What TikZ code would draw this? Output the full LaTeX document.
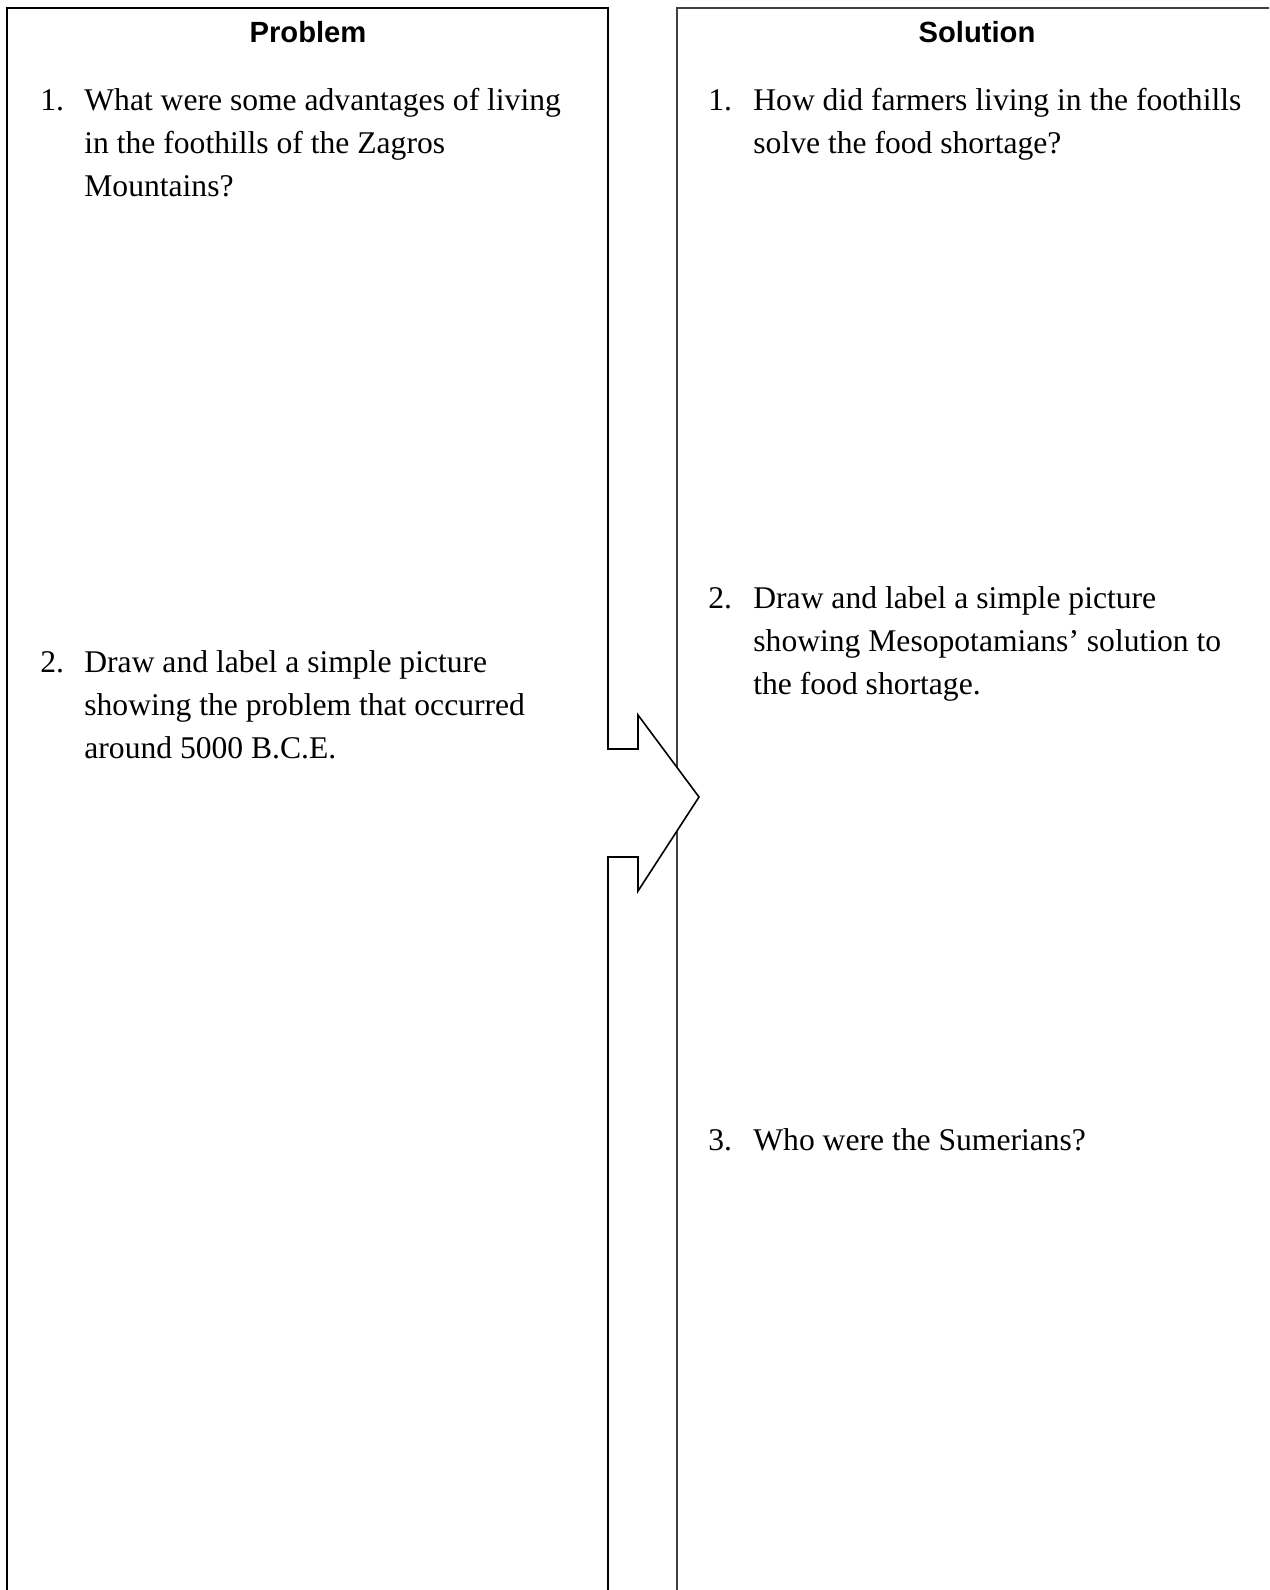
\documentclass[tikz,border=0pt]{standalone}
\usepackage{fontspec}
\setmainfont{Liberation Serif}
\newfontfamily\headfont{Liberation Sans}
\begin{document}
\begin{tikzpicture}[x=0.5pt,y=-0.5pt,
  boxline/.style={line width=0.8pt,line join=miter},
  head/.style={inner sep=0pt,anchor=base,font=\headfont\bfseries\fontsize{14.6}{17}\selectfont},
  body/.style={inner sep=0pt,anchor=base west,font=\fontsize{15.8}{21.5}\selectfont}]
\useasboundingbox (0,0) rectangle (1269,1590);
\clip (0,0) rectangle (1269,1590);
% right box
\draw[boxline,black!75] (677,1600) -- (677,8) -- (1280,8);
% left box with arrow
\draw[boxline,fill=white] (7,1600) -- (7,8) -- (608,8) -- (608,749) -- (638,749) -- (638,715)
  -- (699,797) -- (638,891) -- (638,857) -- (608,857) -- (608,1600);
% headings
\node[head] (hp) at (308,42) {Problem};
\node[head] (hs) at (977,42) {Solution};
% left item 1
\node[body] (pn1) at (40,110) {1.};
\node[body] (p1a) at (84,110) {What were some advantages of living};
\node[body] (p1b) at (84,153) {in the foothills of the Zagros};
\node[body] (p1c) at (84,196) {Mountains?};
% left item 2
\node[body] (pn2) at (40,672) {2.};
\node[body] (p2a) at (84,672) {Draw and label a simple picture};
\node[body] (p2b) at (84,715) {showing the problem that occurred};
\node[body] (p2c) at (84,758) {around 5000 B.C.E.};
% right item 1
\node[body] (sn1) at (708,110) {1.};
\node[body] (s1a) at (753,110) {How did farmers living in the foothills};
\node[body] (s1b) at (753,153) {solve the food shortage?};
% right item 2
\node[body] (sn2) at (708,608) {2.};
\node[body] (s2a) at (753,608) {Draw and label a simple picture};
\node[body] (s2b) at (753,651) {showing Mesopotamians’ solution to};
\node[body] (s2c) at (753,694) {the food shortage.};
% right item 3
\node[body] (sn3) at (708,1150) {3.};
\node[body] (s3a) at (753,1150) {Who were the Sumerians?};
\end{tikzpicture}
\end{document}
